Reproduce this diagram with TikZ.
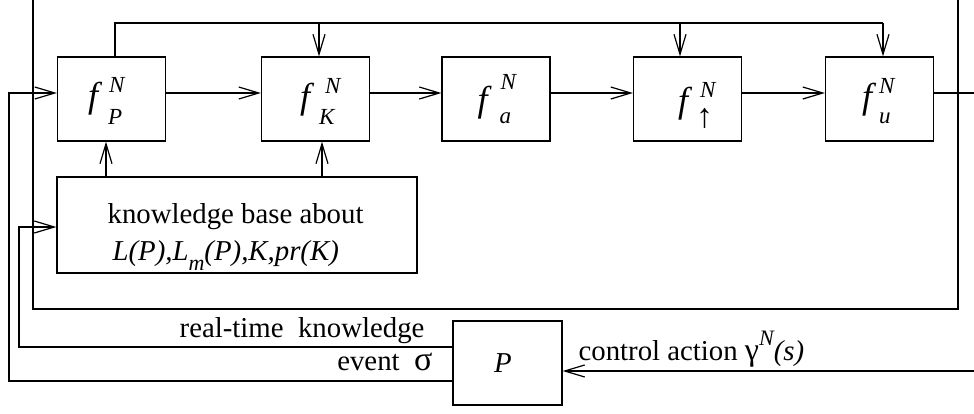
\documentclass[tikz,border=0pt]{standalone}
\usepackage{fontspec}
\setmainfont{Liberation Serif}
\usetikzlibrary{arrows.meta}
\begin{document}
\begin{tikzpicture}[x=0.5pt,y=-0.5pt,
  line width=0.6pt,
  arr/.style={-{Straight Barb[length=10pt,width=6pt]}},
  fbox/.style={draw, minimum width=54pt, minimum height=42pt, inner sep=0pt},
  lbl/.style={inner sep=0pt, anchor=base west},
  ff/.style={lbl, font=\fontsize{18}{18}\selectfont\itshape},
  fs/.style={lbl, font=\fontsize{11.5}{11.5}\selectfont\itshape},
  txt/.style={inner sep=0pt, font=\fontsize{14.4}{17}\selectfont},
]
\useasboundingbox (0,0) rectangle (974,413);
% boxes
\node[fbox] (fP) at (111.5,99) {};
\node[fbox] (fK) at (315.5,99) {};
\node[fbox] (fa) at (496,99) {};
\node[fbox] (fup) at (687.5,99) {};
\node[fbox] (fu) at (879.5,99) {};
\node[draw, minimum width=180pt, minimum height=48pt, inner sep=0pt] (kb) at (237,225) {};
\node[fbox, minimum width=54.5pt] (P) at (507.5,363) {};
\node[txt, font=\fontsize{14.4}{17}\selectfont\itshape] (Pl) at (503,363) {P};
% box labels
\path (fP.center) ++(-24,8) node[ff] (fPf) {f};
\path (fP.center) ++(-3,-7) node[fs] (fPn) {N};
\path (fP.center) ++(-4,25) node[fs] (fPs) {P};
\path (fK.center) ++(-16,9) node[ff] (fKf) {f};
\path (fK.center) ++(9,-6) node[fs] (fKn) {N};
\path (fK.center) ++(3,25) node[fs] (fKs) {K};
\path (fa.center) ++(-19,12) node[ff] (faf) {f};
\path (fa.center) ++(4,-10) node[fs] (fan) {N};
\path (fa.center) ++(3,24) node[fs] (fas) {a};
\path (fup.center) ++(-10,13) node[ff] (fupf) {f};
\path (fup.center) ++(12,-2) node[fs] (fupn) {N};
\path (fup.center) ++(8,28) node[lbl, font=\fontsize{17}{17}\selectfont] (fups) {↑};
\path (fu.center) ++(-18,9) node[ff] (fuf) {f};
\path (fu.center) ++(-1,-6) node[fs] (fun) {N};
\path (fu.center) ++(-1,24) node[fs] (fus) {u};
% knowledge base text
\node[txt, anchor=base west] (kb1) at (107,223) {knowledge base about};
\node[txt, anchor=base west] (kb2) at (112,260) {\itshape L(P),L\raisebox{-5pt}{\fontsize{11}{11}\selectfont m}(P),K,pr(K)};
% other labels
\node[txt, anchor=base east] (rt) at (425,337) {real-time~ knowledge};
\node[txt, anchor=base east] (ev) at (433,370) {event~ {\fontsize{17}{17}\selectfont σ}};
\node[txt, anchor=base west] (ca) at (578,360) {control action {\fontsize{16}{16}\selectfont γ}\raisebox{7.5pt}{\fontsize{11}{11}\selectfont\itshape N}{\itshape (s)}};
% frame
\coordinate (fr1) at (33,0);
\coordinate (fr2) at (958,0);
\coordinate (frb) at (500,309);
\draw (fr1) |- (frb) -| (fr2);
% main chain
\draw[arr] ([yshift=3pt]fP.east) -- ([yshift=3pt]fK.west);
\draw[arr] ([yshift=3pt]fK.east) -- ([yshift=3pt]fa.west);
\draw[arr] ([yshift=3pt]fa.east) -- ([yshift=3pt]fup.west);
\draw[arr] ([yshift=3pt]fup.east) -- ([yshift=3pt]fu.west);
\coordinate (fuo) at (974,93);
\draw ([yshift=3pt]fu.east) -- (fuo);
% top feedback
\coordinate (t0) at (115,23);
\coordinate (tK) at (319,23);
\coordinate (tA) at (680,23);
\coordinate (tU) at (883,23);
\draw (fP.north -| t0) -- (t0) -- (tU);
\draw[arr] (tK) -- (fK.north -| tK);
\draw[arr] (tA) -- (fup.north -| tA);
\draw[arr] (tU) -- (fu.north -| tU);
% knowledge base to boxes
\coordinate (k1) at (106,177);
\coordinate (k2) at (322,177);
\draw[arr] (k1) -- (fP.south -| k1);
\draw[arr] (k2) -- (fK.south -| k2);
% event line
\coordinate (e1) at (9,381);
\coordinate (e2) at (9,93);
\draw[arr] ([yshift=-9pt]P.west) -- (e1) -- (e2) -- ([yshift=3pt]fP.west);
% real-time knowledge line
\coordinate (r1) at (19,347);
\coordinate (r2) at (19,227);
\draw[arr] ([yshift=8pt]P.west) -- (r1) -- (r2) -- ([yshift=-1pt]kb.west);
% control action
\coordinate (cin) at (974,371);
\draw[arr] (cin) -- ([yshift=-4pt]P.east);
\end{tikzpicture}
\end{document}
